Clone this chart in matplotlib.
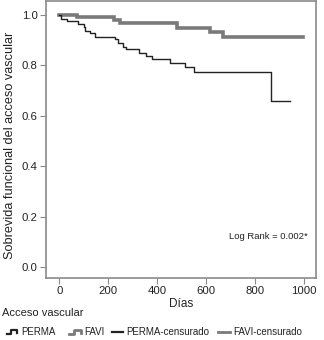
import matplotlib
matplotlib.use("Agg")
import matplotlib.pyplot as plt
from matplotlib.lines import Line2D

plt.rcParams['font.family'] = ['Liberation Sans', 'DejaVu Sans']

# PERMA Kaplan-Meier (step after each event)
perma_days = [0, 5, 29, 77, 101, 104, 125, 145, 225, 240, 259, 273, 325, 355, 377, 450, 511, 548, 866, 942]
perma_surv = [1.0, 0.983, 0.975, 0.965, 0.952, 0.938, 0.927, 0.914, 0.904, 0.890, 0.874, 0.864, 0.850, 0.837, 0.824, 0.811, 0.795, 0.775, 0.660, 0.660]

# FAVI Kaplan-Meier
favi_days = [0, 70, 223, 247, 481, 615, 670, 994]
favi_surv = [1.0, 0.993, 0.980, 0.967, 0.950, 0.931, 0.913, 0.913]

x_ticks = [0, 200, 400, 600, 800, 1000]
y_ticks = [0.0, 0.2, 0.4, 0.6, 0.8, 1.0]
legend_labels = ["PERMA", "FAVI", "PERMA-censurado", "FAVI-censurado"]

W, H = 324, 340
fig = plt.figure(figsize=(W / 100, H / 100), dpi=100)
ax = fig.add_axes([46 / W, 1 - 278 / H, 270 / W, 277 / H])

favi_color = '#7a7a7a'
perma_color = '#222222'
frame_color = '#8a8a8a'
text_color = '#222222'

ax.step(favi_days, favi_surv, where='post', color=favi_color, lw=2.6, solid_joinstyle='miter')
ax.step(perma_days, perma_surv, where='post', color=perma_color, lw=1.0)

ax.set_xlim(-55, 1048)
ax.set_ylim(-0.044, 1.056)
ax.set_xticks(x_ticks)
ax.set_yticks(y_ticks)
ax.set_xticklabels([str(v) for v in x_ticks])
ax.set_yticklabels([f"{v:.1f}" for v in y_ticks])
ax.tick_params(direction='out', length=4, width=0.8, color=frame_color, labelsize=8.2, pad=2, labelcolor=text_color)
for s in ax.spines.values():
    s.set_color(frame_color)
    s.set_linewidth(1.2)

ax.set_xlabel("Días", fontsize=8.5, labelpad=1, color=text_color)
ax.set_ylabel("Sobrevida funcional del acceso vascular", fontsize=9.2, color=text_color)
ax.yaxis.set_label_coords(-30 / 270, 0.48)

ax.text(852, 0.119, "Log Rank = 0.002*", fontsize=6.8, ha='center', va='center', color=text_color)

def fx(x):
    return x / W

def fy(y):
    return 1 - y / H

fig.text(fx(2), fy(313), "Acceso vascular", fontsize=8, ha='left', va='center', color=text_color)

yl = 332
fs_leg = 7
# PERMA step handle
fig.add_artist(Line2D([fx(7), fx(11), fx(11), fx(17), fx(17)], [fy(yl + 2), fy(yl + 2), fy(yl - 2), fy(yl - 2), fy(yl + 1)],
                      color=perma_color, lw=1.6, transform=fig.transFigure))
fig.text(fx(21), fy(yl), legend_labels[0], fontsize=fs_leg, ha='left', va='center', color=text_color)
# FAVI step handle
fig.add_artist(Line2D([fx(69), fx(74), fx(74), fx(81), fx(81)], [fy(yl + 2), fy(yl + 2), fy(yl - 2), fy(yl - 2), fy(yl + 1)],
                      color=favi_color, lw=2.0, transform=fig.transFigure))
fig.text(fx(84), fy(yl), legend_labels[1], fontsize=fs_leg, ha='left', va='center', color=text_color)
# censored handles
fig.add_artist(Line2D([fx(112), fx(123)], [fy(yl), fy(yl)], color=perma_color, lw=1.6, transform=fig.transFigure))
fig.text(fx(126), fy(yl), legend_labels[2], fontsize=fs_leg, ha='left', va='center', color=text_color)
fig.add_artist(Line2D([fx(218), fx(230)], [fy(yl), fy(yl)], color=favi_color, lw=2.0, transform=fig.transFigure))
fig.text(fx(233), fy(yl), legend_labels[3], fontsize=fs_leg, ha='left', va='center', color=text_color)

fig.savefig("out.png", dpi=100)
